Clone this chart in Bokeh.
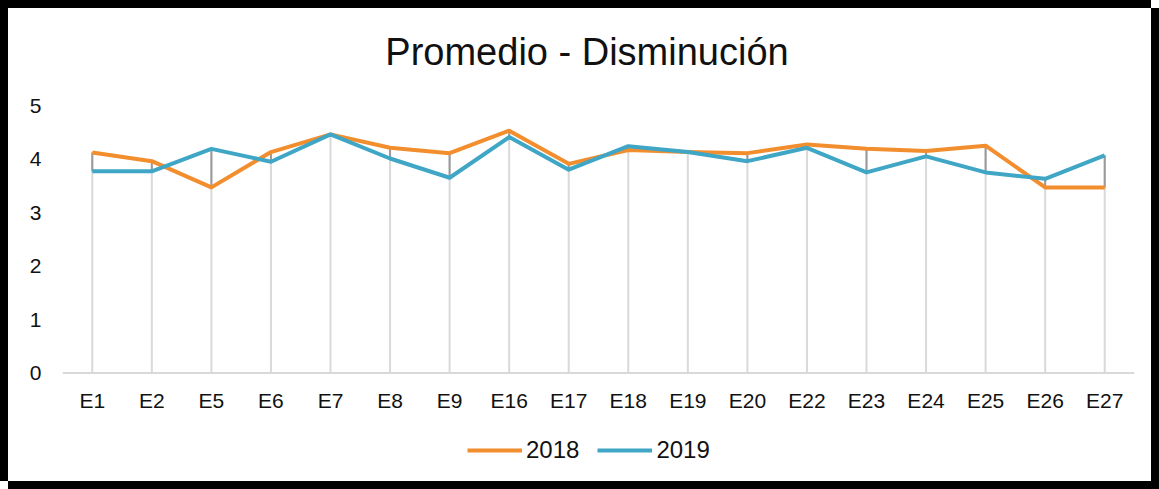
import numpy as np
from bokeh.plotting import figure
from bokeh.models import (FactorRange, Range1d, Legend, LegendItem, ColumnDataSource,
                          FixedTicker, Span, Label)
from bokeh.core.properties import value
from bokeh.embed import file_html
from bokeh.resources import INLINE

# ---- data ----
categories = ["E1", "E2", "E5", "E6", "E7", "E8", "E9", "E16", "E17", "E18",
              "E19", "E20", "E22", "E23", "E24", "E25", "E26", "E27"]
v2018 = [4.12, 3.96, 3.47, 4.13, 4.46, 4.21, 4.11, 4.53, 3.91, 4.17,
         4.13, 4.11, 4.27, 4.19, 4.15, 4.25, 3.47, 3.47]
v2019 = [3.77, 3.77, 4.19, 3.95, 4.46, 4.01, 3.65, 4.41, 3.80, 4.24,
         4.13, 3.96, 4.21, 3.75, 4.05, 3.75, 3.63, 4.07]
series_names = ["2018", "2019"]
y_ticks = [0, 1, 2, 3, 4, 5]
title_text = "Promedio - Disminución"

FONT = "Liberation Sans"
ORANGE = "#F28E2E"
BLUE = "#3FA6C6"
TXT = "#111111"

hi = np.maximum(v2018, v2019)
lo = np.minimum(v2018, v2019)
n = len(categories)
src = ColumnDataSource(dict(x=categories, a=v2018, b=v2019, hi=hi, lo=lo,
                            zero=[0] * n))

# frame is extended above 5 and below 0 so the title and legend sit inside it;
# the y axis only labels 0..5
p = figure(x_range=FactorRange(*categories), y_range=Range1d(-1.822, 6.664),
           width=1151, height=481, output_backend="svg", toolbar_location=None,
           x_axis_location=None,
           min_border_left=54, min_border_right=25, min_border_top=8,
           min_border_bottom=19)
p.styles = {"border-style": "solid", "border-color": "black",
            "border-width": "8px 0px 0px 8px",
            "box-shadow": "8px 8px 0px 0px black"}
p.outline_line_color = None
p.background_fill_color = "white"
p.border_fill_color = "white"
p.xgrid.visible = False
p.ygrid.visible = False

# drop lines and high-low lines
p.segment(x0="x", y0="zero", x1="x", y1="hi", source=src, line_color="#D9D9D9", line_width=2)
p.segment(x0="x", y0="lo", x1="x", y1="hi", source=src, line_color="#9A9A9A", line_width=2)

# category axis line at 0
p.add_layout(Span(location=0, dimension="width", line_color="#D9D9D9", line_width=2))

r18 = p.line("x", "a", source=src, line_color=ORANGE, line_width=4, line_join="round")
r19 = p.line("x", "b", source=src, line_color=BLUE, line_width=4, line_join="round")

# category labels under the 0 line
p.text(x="x", y="zero", text="x", source=src, text_align="center",
       text_baseline="middle", y_offset=27.5, text_font=value(FONT),
       text_font_size="21px", text_color=TXT)

# y axis
p.yaxis.ticker = FixedTicker(ticks=y_ticks)
p.yaxis.axis_line_color = None
p.yaxis.major_tick_line_color = None
p.yaxis.minor_tick_line_color = None
p.yaxis.major_label_standoff = 15
p.yaxis.major_label_text_font = FONT
p.yaxis.major_label_text_font_size = "21px"
p.yaxis.major_label_text_color = TXT

# title (centre of the category span, above the 5 level)
p.add_layout(Label(x=len(categories) / 2, y=6.0, x_offset=-11.5, text=title_text,
                   text_align="center", text_baseline="middle",
                   text_font=FONT, text_font_size="38px", text_color=TXT))

# legend (inside the extended frame, below the category labels)
legend = Legend(items=[LegendItem(label=series_names[0], renderers=[r18]),
                       LegendItem(label=series_names[1], renderers=[r19])],
                orientation="horizontal", location=(405, 6),
                glyph_width=55, glyph_height=24, label_standoff=4, spacing=18,
                padding=0, margin=0, border_line_color=None,
                background_fill_alpha=0, label_text_font=FONT,
                label_text_font_size="24px", label_text_color=TXT,
                label_height=24)
p.add_layout(legend, "center")

open("out.html", "w").write(file_html(p, INLINE))
